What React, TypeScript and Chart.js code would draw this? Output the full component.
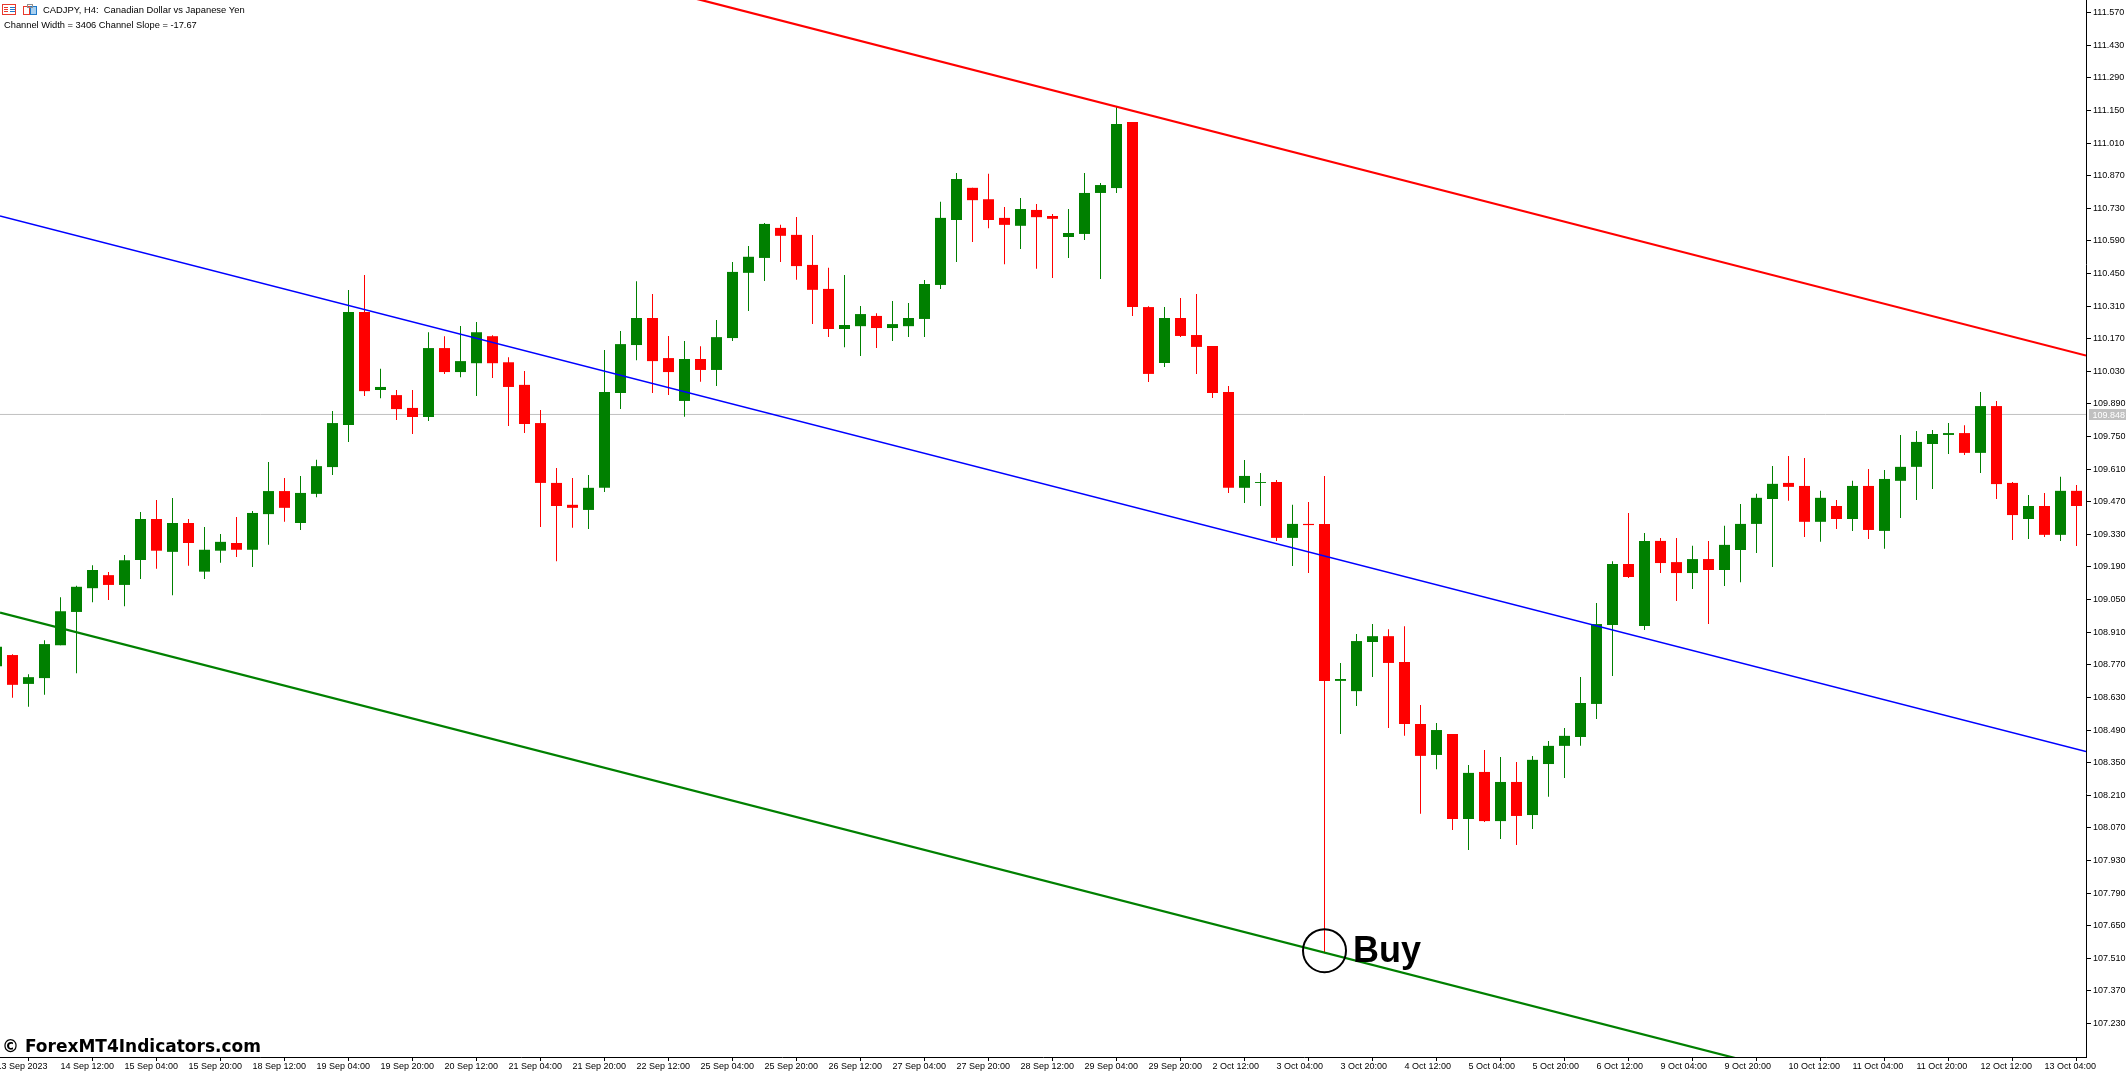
import React, { useEffect, useRef } from "react";
import Chart from "chart.js/auto";

const opens = [108.764,108.812,108.688,108.713,108.854,108.997,109.099,109.155,109.113,109.220,
109.396,109.255,109.379,109.170,109.260,109.293,109.264,109.417,109.516,109.379,
109.504,109.619,109.800,110.285,109.950,109.928,109.873,109.834,110.130,110.027,
110.065,110.181,110.069,109.972,109.808,109.551,109.457,109.435,109.530,109.937,
110.143,110.259,110.087,109.903,110.083,110.036,110.173,110.453,110.517,110.646,
110.616,110.487,110.384,110.212,110.224,110.268,110.216,110.224,110.255,110.401,
110.680,110.818,110.769,110.689,110.655,110.723,110.697,110.607,110.620,110.796,
110.817,111.101,110.306,110.066,110.259,110.186,110.139,109.941,109.530,109.551,
109.555,109.315,109.375,109.375,108.701,108.657,108.868,108.893,108.782,108.516,
108.383,108.473,108.108,108.310,108.099,108.267,108.125,108.344,108.422,108.460,
108.602,108.941,109.203,108.937,109.302,109.211,109.164,109.224,109.177,109.263,
109.375,109.482,109.551,109.538,109.384,109.452,109.396,109.538,109.345,109.560,
109.620,109.718,109.757,109.765,109.680,109.881,109.551,109.396,109.452,109.328,109.517];

const highs = [108.878,108.815,108.730,108.876,109.060,109.109,109.198,109.168,109.242,109.426,
109.478,109.486,109.396,109.362,109.332,109.405,109.430,109.641,109.572,109.581,
109.650,109.860,110.379,110.444,110.041,109.950,109.950,110.198,110.181,110.225,
110.242,110.185,110.091,110.032,109.864,109.615,109.572,109.585,110.122,110.203,
110.417,110.362,110.182,110.160,110.138,110.250,110.500,110.568,110.667,110.659,
110.693,110.616,110.475,110.444,110.311,110.280,110.332,110.324,110.422,110.758,
110.882,110.818,110.878,110.736,110.774,110.749,110.706,110.727,110.882,110.839,
111.165,111.101,110.310,110.306,110.345,110.362,110.139,109.967,109.649,109.594,
109.564,109.457,109.469,109.581,108.778,108.902,108.945,108.923,108.936,108.598,
108.520,108.473,108.340,108.404,108.374,108.353,108.379,108.443,108.499,108.718,
109.035,109.215,109.422,109.336,109.315,109.315,109.281,109.302,109.367,109.461,
109.504,109.624,109.667,109.658,109.517,109.478,109.560,109.611,109.607,109.757,
109.774,109.778,109.808,109.799,109.941,109.903,109.555,109.499,109.508,109.577,109.542];

const lows = [108.730,108.629,108.590,108.641,108.854,108.734,109.039,109.048,109.022,109.138,
109.182,109.069,109.195,109.138,109.208,109.233,109.190,109.285,109.384,109.349,
109.490,109.585,109.727,109.924,109.915,109.821,109.761,109.817,110.019,110.005,
109.924,110.001,109.795,109.765,109.362,109.215,109.358,109.353,109.512,109.868,
110.078,109.937,109.928,109.835,109.985,109.967,110.160,110.289,110.418,110.500,
110.423,110.233,110.178,110.134,110.096,110.130,110.160,110.177,110.177,110.384,
110.500,110.585,110.645,110.490,110.555,110.471,110.431,110.517,110.594,110.427,
110.796,110.268,109.984,110.049,110.178,110.019,109.916,109.508,109.465,109.452,
109.302,109.194,109.164,107.532,108.473,108.593,108.718,108.499,108.465,108.130,
108.322,108.061,107.975,108.095,108.022,107.996,108.065,108.203,108.284,108.422,
108.537,108.722,109.143,108.920,109.164,109.044,109.095,108.945,109.108,109.125,
109.250,109.190,109.474,109.319,109.298,109.353,109.345,109.310,109.268,109.400,
109.478,109.525,109.675,109.671,109.594,109.482,109.306,109.310,109.319,109.302,109.280];

const closes = [108.848,108.684,108.717,108.859,109.000,109.105,109.177,109.113,109.219,109.396,
109.260,109.379,109.293,109.264,109.298,109.264,109.422,109.516,109.444,109.508,
109.623,109.808,110.285,109.945,109.963,109.868,109.834,110.130,110.027,110.074,
110.198,110.065,109.963,109.804,109.551,109.452,109.444,109.530,109.941,110.147,
110.259,110.074,110.027,110.083,110.036,110.177,110.457,110.522,110.663,110.612,
110.482,110.380,110.212,110.229,110.276,110.216,110.233,110.259,110.405,110.689,
110.856,110.765,110.680,110.659,110.727,110.692,110.685,110.624,110.796,110.830,
111.092,110.306,110.019,110.259,110.182,110.135,109.937,109.530,109.581,109.555,
109.315,109.375,109.370,108.701,108.709,108.872,108.893,108.778,108.516,108.379,
108.490,108.108,108.306,108.099,108.267,108.121,108.362,108.422,108.465,108.606,
108.945,109.203,109.147,109.302,109.207,109.164,109.224,109.177,109.285,109.375,
109.487,109.547,109.534,109.384,109.487,109.396,109.538,109.349,109.568,109.620,
109.727,109.761,109.765,109.680,109.881,109.546,109.413,109.452,109.328,109.517,109.452];

const timeTickLabels = ["13 Sep 2023","14 Sep 12:00","15 Sep 04:00","15 Sep 20:00","18 Sep 12:00","19 Sep 04:00","19 Sep 20:00","20 Sep 12:00","21 Sep 04:00","21 Sep 20:00","22 Sep 12:00","25 Sep 04:00","25 Sep 20:00","26 Sep 12:00","27 Sep 04:00","27 Sep 20:00","28 Sep 12:00","29 Sep 04:00","29 Sep 20:00","2 Oct 12:00","3 Oct 04:00","3 Oct 20:00","4 Oct 12:00","5 Oct 04:00","5 Oct 20:00","6 Oct 12:00","9 Oct 04:00","9 Oct 20:00","10 Oct 12:00","11 Oct 04:00","11 Oct 20:00","12 Oct 12:00","13 Oct 04:00"];
const timeTickBars = timeTickLabels.map((_, i) => i * 4);

const priceTicks = [111.57,111.43,111.29,111.15,111.01,110.87,110.73,110.59,110.45,110.31,110.17,110.03,109.89,109.75,109.61,109.47,109.33,109.19,109.05,108.91,108.77,108.63,108.49,108.35,108.21,108.07,107.93,107.79,107.65,107.51,107.37,107.23];

const channelBars = [0.21875, 130.59375];
const channelUpper = [112.397, 110.098];
const channelMiddle = [110.697, 108.398];
const channelLower = [108.994, 106.695];

const bidLevel = 109.845;
const bidLabel = "109.848";
const buyBar = 83;
const buyPrice = 107.5425;

const symbolTitle = "CADJPY, H4:  Canadian Dollar vs Japanese Yen";
const channelInfo = "Channel Width = 3406 Channel Slope = -17.67";
const watermark = "\u00A9 ForexMT4Indicators.com";
const buyLabel = "Buy";

const UP = "#008000";
const DOWN = "#ff0000";
const FONT = '"Liberation Sans", Arial, sans-serif';

const overlay = {
  id: "overlay",
  afterDraw(chart: any) {
    const { ctx, scales } = chart;
    ctx.save();
    // price tag
    const yb = scales.y.getPixelForValue(bidLevel);
    ctx.fillStyle = "#c0c0c0";
    ctx.fillRect(2089, Math.floor(yb) - 5, 37, 11);
    ctx.fillStyle = "#ffffff";
    ctx.font = `9px ${FONT}`;
    ctx.textBaseline = "alphabetic";
    ctx.textAlign = "left";
    ctx.fillText(bidLabel, 2092.5, Math.floor(yb) + 3.5);

    // header text
    ctx.fillStyle = "#000000";
    ctx.font = `9.4px ${FONT}`;
    ctx.fillText(symbolTitle, 43, 13);
    ctx.font = `9.3px ${FONT}`;
    ctx.fillText(channelInfo, 4, 28);

    // header icons
    ctx.lineWidth = 1;
    ctx.strokeStyle = "#e8392c";
    ctx.strokeRect(2.5, 4.5, 13, 10);
    ctx.strokeStyle = "#e8392c";
    ctx.beginPath();
    for (const yy of [7.5, 9.5, 11.5]) {
      ctx.moveTo(4, yy); ctx.lineTo(8, yy);
    }
    ctx.stroke();
    ctx.strokeStyle = "#1f78c8";
    ctx.beginPath();
    for (const yy of [7.5, 9.5, 11.5]) {
      ctx.moveTo(10, yy); ctx.lineTo(15, yy);
    }
    ctx.stroke();
    ctx.strokeStyle = "#e8392c";
    ctx.strokeRect(23.5, 6.5, 6, 8);
    ctx.strokeStyle = "#1f78c8";
    ctx.fillStyle = "#a8d0f0";
    ctx.fillRect(30.5, 6.5, 6, 8);
    ctx.strokeRect(30.5, 6.5, 6, 8);
    ctx.strokeStyle = "#909090";
    ctx.strokeRect(27.5, 4.5, 5, 3);

    // watermark
    ctx.fillStyle = "#000000";
    ctx.font = `bold 17px "DejaVu Sans", ${FONT}`;
    ctx.fillText(watermark, 2, 1052);

    // Buy
    const bx = scales.x.getPixelForValue(buyBar);
    const by = scales.y.getPixelForValue(buyPrice);
    ctx.font = `bold 36px ${FONT}`;
    ctx.fillText(buyLabel, bx + 28.5, by + 11);
    ctx.restore();
  },
};

export default function App() {
  const ref = useRef<HTMLCanvasElement>(null);
  useEffect(() => {
    const canvas = ref.current!;
    const bars = opens.map((_, i) => i);
    const colors = bars.map((i) => (closes[i] >= opens[i] ? UP : DOWN));
    const line = (data: number[], color: string, width: number, order: number) => ({
      type: "line" as const,
      data: channelBars.map((x, i) => ({ x, y: data[i] })),
      borderColor: color,
      borderWidth: width,
      pointRadius: 0,
      order,
      tension: 0,
    });
    const zeroPad = (axis: any) => {
      axis.paddingTop = 0;
      axis.paddingBottom = 0;
      axis.paddingLeft = 0;
      axis.paddingRight = 0;
    };
    const chart = new Chart(canvas, {
      type: "bar",
      data: {
        datasets: [
          {
            type: "line",
            data: [{ x: buyBar, y: buyPrice }],
            showLine: false,
            pointStyle: "circle",
            pointRadius: 21.5,
            pointBorderWidth: 2,
            pointBorderColor: "#000000",
            pointBackgroundColor: "rgba(0,0,0,0)",
            order: 0,
          },
          line(channelUpper, DOWN, 2.2, 1),
          line(channelMiddle, "#0000ff", 1.4, 1),
          line(channelLower, UP, 2.2, 1),
          {
            type: "bar",
            data: bars.map((i) => ({ x: i, y: [opens[i], closes[i]] })),
            backgroundColor: colors,
            borderWidth: 0,
            barThickness: 11,
            grouped: false,
            inflateAmount: 0,
            order: 2,
          },
          {
            type: "bar",
            data: bars.map((i) => ({ x: i, y: [lows[i], highs[i]] })),
            backgroundColor: colors,
            borderWidth: 0,
            barThickness: 1,
            grouped: false,
            inflateAmount: 0,
            order: 3,
          },
          {
            type: "line",
            data: channelBars.map((x) => ({ x, y: bidLevel })),
            borderColor: "#c0c0c0",
            borderWidth: 1,
            pointRadius: 0,
            order: 4,
          },
        ],
      } as any,
      options: {
        animation: false,
        responsive: false,
        devicePixelRatio: 1,
        layout: { padding: 0, autoPadding: false },
        plugins: { legend: { display: false }, tooltip: { enabled: false } },
        scales: {
          x: {
            type: "linear",
            offset: false,
            min: channelBars[0],
            max: channelBars[1],
            afterBuildTicks(axis: any) {
              axis.ticks = timeTickBars.map((value) => ({ value }));
            },
            afterFit(axis: any) {
              axis.height = 16;
              zeroPad(axis);
            },
            grid: { drawOnChartArea: false, drawTicks: true, tickLength: 4, tickColor: "#000000", tickWidth: 1 },
            border: { color: "#000000", width: 1 },
            ticks: {
              autoSkip: false,
              maxRotation: 0,
              minRotation: 0,
              align: "start",
              padding: 0,
              color: "#000000",
              font: { family: FONT, size: 9 },
              callback: (_v: any, i: number) => timeTickLabels[i],
            },
          },
          y: {
            type: "linear",
            position: "right",
            min: 107.0861,
            max: 111.6245,
            afterBuildTicks(axis: any) {
              axis.ticks = priceTicks.map((value) => ({ value }));
            },
            afterFit(axis: any) {
              axis.width = 41;
              zeroPad(axis);
            },
            grid: { drawOnChartArea: false, drawTicks: true, tickLength: 5, tickColor: "#000000", tickWidth: 1 },
            border: { color: "#000000", width: 1 },
            ticks: {
              autoSkip: false,
              padding: 2,
              color: "#000000",
              font: { family: FONT, size: 9 },
              callback: (v: any) => Number(v).toFixed(3),
            },
          },
        },
      },
      plugins: [overlay],
    } as any);
    return () => chart.destroy();
  }, []);
  return (
    <canvas
      ref={ref}
      width={2127}
      height={1073}
      style={{ position: "fixed", left: 0, top: 0, width: 2127, height: 1073, display: "block", background: "#ffffff" }}
    />
  );
}
